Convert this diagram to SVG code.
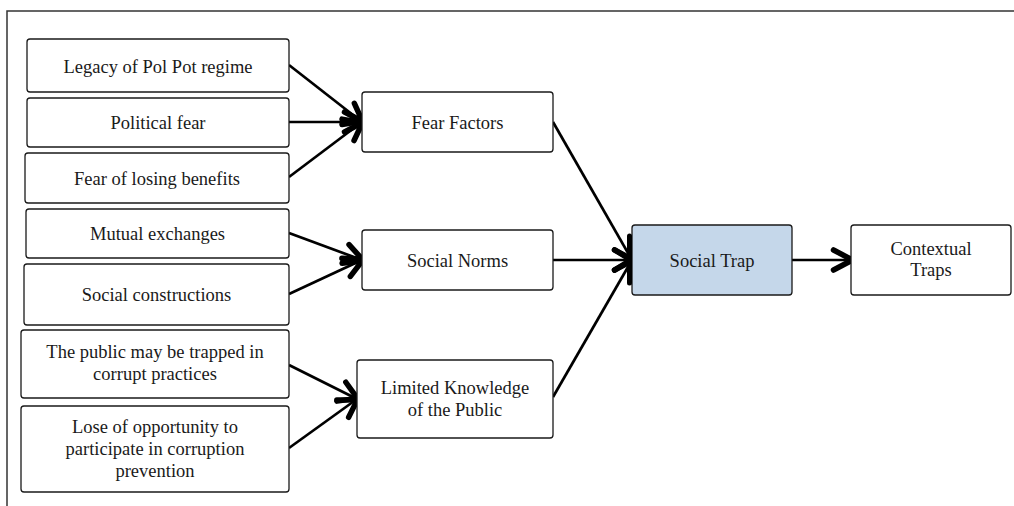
<svg xmlns="http://www.w3.org/2000/svg" width="1014" height="506" viewBox="0 0 1014 506">
  <style>
    .box { fill: #ffffff; stroke: #1a1a1a; stroke-width: 1.3; }
    .hl { fill: #c5d7ea; }
    .lbl { font-family: "Liberation Serif", "Times New Roman", serif; font-size: 18.5px; fill: #1a1a1a; text-anchor: middle; }
    .edge { stroke: #000000; stroke-width: 2.7; fill: none; marker-end: url(#chev); }
    .frame { stroke: #333333; stroke-width: 1.5; fill: none; }
  </style>
  <defs>
    <marker id="chev" markerUnits="userSpaceOnUse" viewBox="-26 -16 30 32" markerWidth="30" markerHeight="32" refX="-1.5" refY="0" orient="auto">
      <path d="M-19,-10 L0,0 L-19,10" fill="none" stroke="#000000" stroke-width="5.5" stroke-linecap="round" stroke-linejoin="round"/>
    </marker>
  </defs>

  <!-- outer frame -->
  <path class="frame" d="M7,506 L7,11 L1014,11"/>

  <!-- connectors -->
  <g id="connectors">
    <line class="edge" x1="289" y1="65" x2="362" y2="122"/>
    <line class="edge" x1="289" y1="122" x2="362" y2="122"/>
    <line class="edge" x1="289" y1="177" x2="362" y2="122"/>
    <line class="edge" x1="289" y1="233" x2="362" y2="260"/>
    <line class="edge" x1="289" y1="294" x2="362" y2="260"/>
    <line class="edge" x1="289" y1="365" x2="357" y2="399"/>
    <line class="edge" x1="289" y1="448" x2="357" y2="399"/>
    <line class="edge" x1="553" y1="122" x2="632" y2="260"/>
    <line class="edge" x1="553" y1="260" x2="632" y2="260"/>
    <line class="edge" x1="553" y1="397" x2="632" y2="260"/>
    <line class="edge" x1="792" y1="260" x2="851" y2="260"/>
  </g>

  <!-- source factors -->
  <g id="legacy">
    <rect class="box" x="27" y="39" width="262" height="53" rx="3"/>
    <text class="lbl" x="158" y="72.5">Legacy of Pol Pot regime</text>
  </g>
  <g id="political-fear">
    <rect class="box" x="27" y="98" width="262" height="49" rx="3"/>
    <text class="lbl" x="158" y="129">Political fear</text>
  </g>
  <g id="losing-benefits">
    <rect class="box" x="25" y="153" width="264" height="50" rx="3"/>
    <text class="lbl" x="157" y="185">Fear of losing benefits</text>
  </g>
  <g id="mutual-exchanges">
    <rect class="box" x="26" y="209" width="263" height="49" rx="3"/>
    <text class="lbl" x="157.5" y="240">Mutual exchanges</text>
  </g>
  <g id="social-constructions">
    <rect class="box" x="24" y="264" width="265" height="61" rx="3"/>
    <text class="lbl" x="156.5" y="301">Social constructions</text>
  </g>
  <g id="public-trapped">
    <rect class="box" x="21" y="330" width="268" height="68" rx="3"/>
    <text class="lbl" x="155" y="358">The public may be trapped in</text>
    <text class="lbl" x="155" y="379.5">corrupt practices</text>
  </g>
  <g id="lost-opportunity">
    <rect class="box" x="21" y="406" width="268" height="86" rx="3"/>
    <text class="lbl" x="155" y="433">Lose of opportunity to</text>
    <text class="lbl" x="155" y="455">participate in corruption</text>
    <text class="lbl" x="155" y="477">prevention</text>
  </g>

  <!-- intermediate factors -->
  <g id="fear-factors">
    <rect class="box" x="362" y="92" width="191" height="60" rx="3"/>
    <text class="lbl" x="457.5" y="129">Fear Factors</text>
  </g>
  <g id="social-norms">
    <rect class="box" x="362" y="230" width="191" height="60" rx="3"/>
    <text class="lbl" x="457.5" y="267">Social Norms</text>
  </g>
  <g id="limited-knowledge">
    <rect class="box" x="357" y="360" width="196" height="78" rx="3"/>
    <text class="lbl" x="455" y="394">Limited Knowledge</text>
    <text class="lbl" x="455" y="416">of the Public</text>
  </g>

  <!-- outcome -->
  <g id="social-trap">
    <rect class="box hl" x="632" y="225" width="160" height="70" rx="3"/>
    <!-- heavy entry bar on the left edge -->
    <line x1="629.5" y1="236" x2="629.5" y2="283" stroke="#000000" stroke-width="5" stroke-linecap="round"/>
    <text class="lbl" x="712" y="267">Social Trap</text>
  </g>
  <g id="contextual-traps">
    <rect class="box" x="851" y="225" width="160" height="70" rx="3"/>
    <text class="lbl" x="931" y="255">Contextual</text>
    <text class="lbl" x="931" y="276">Traps</text>
  </g>
</svg>
